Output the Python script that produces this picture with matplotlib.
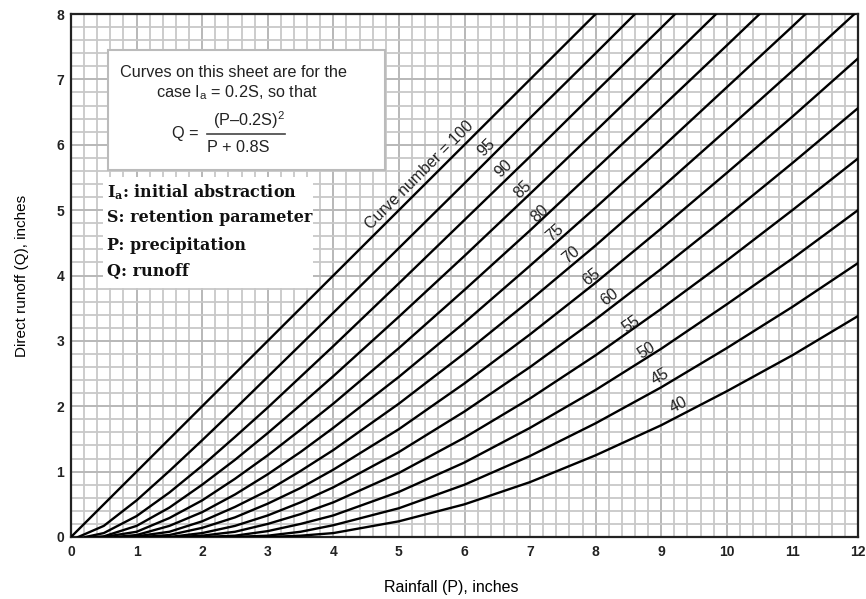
import numpy as np
import matplotlib.pyplot as plt
from matplotlib.patches import Rectangle

plt.rcParams["font.family"] = ["Liberation Sans", "DejaVu Sans"]
plt.rcParams["mathtext.fontset"] = "custom"
plt.rcParams["mathtext.rm"] = "Liberation Sans"
plt.rcParams["mathtext.it"] = "Liberation Sans:italic"
plt.rcParams["mathtext.bf"] = "Liberation Sans:bold"

p_grid = [0.5, 1, 1.5, 2, 2.5, 3, 3.5, 4, 5, 6, 7, 8, 9, 10, 11, 12]

curve_numbers = [100, 95, 90, 85, 80, 75, 70, 65, 60, 55, 50, 45, 40]
# rainfall where each curve leaves the x axis (initial abstraction)
start_p = [0.0, 0.11, 0.22, 0.35, 0.50, 0.67, 0.86, 1.08, 1.33, 1.64, 2.00, 2.44, 3.00]

q_100 = [0.5, 1, 1.5, 2, 2.5, 3, 3.5, 4, 5, 6, 7, 8, 9, None, None, None]
q_95 = [0.17, 0.56, 1.01, 1.48, 1.96, 2.45, 2.94, 3.43, 4.42, 5.41, 6.41, 7.40, 8.40, None, None, None]
q_90 = [0.06, 0.32, 0.68, 1.09, 1.53, 1.98, 2.45, 2.92, 3.88, 4.85, 5.82, 6.81, 7.79, 8.78, None, None]
q_85 = [0.01, 0.17, 0.45, 0.80, 1.18, 1.59, 2.02, 2.46, 3.37, 4.30, 5.25, 6.21, 7.18, 8.16, None, None]
q_80 = [None, 0.08, 0.29, 0.56, 0.89, 1.25, 1.64, 2.04, 2.89, 3.78, 4.69, 5.63, 6.57, 7.52, 8.48, None]
q_75 = [None, 0.03, 0.17, 0.38, 0.65, 0.96, 1.30, 1.67, 2.45, 3.28, 4.15, 5.04, 5.95, 6.88, 7.81, 8.76]
q_70 = [None, 0.01, 0.08, 0.24, 0.46, 0.71, 1.01, 1.33, 2.04, 2.81, 3.62, 4.46, 5.34, 6.23, 7.13, 8.05]
q_65 = [None, None, 0.03, 0.14, 0.30, 0.51, 0.75, 1.03, 1.65, 2.35, 3.10, 3.89, 4.72, 5.57, 6.43, 7.32]
q_60 = [None, None, 0.00, 0.06, 0.17, 0.33, 0.53, 0.76, 1.30, 1.92, 2.60, 3.33, 4.10, 4.90, 5.72, 6.56]
q_55 = [None, None, None, 0.02, 0.08, 0.20, 0.35, 0.53, 0.98, 1.52, 2.12, 2.78, 3.49, 4.23, 5.00, 5.79]
q_50 = [None, None, None, None, 0.02, 0.09, 0.20, 0.33, 0.69, 1.14, 1.67, 2.25, 2.88, 3.56, 4.26, 5.00]
q_45 = [None, None, None, None, None, 0.02, 0.08, 0.18, 0.44, 0.80, 1.24, 1.74, 2.29, 2.89, 3.52, 4.19]
q_40 = [None, None, None, None, None, None, 0.02, 0.06, 0.24, 0.50, 0.84, 1.25, 1.71, 2.23, 2.78, 3.38]

runoff = [q_100, q_95, q_90, q_85, q_80, q_75, q_70, q_65, q_60, q_55, q_50, q_45, q_40]

# label placement read from the sheet: (P, Q, angle)
label_p = [5.32, 6.34, 6.59, 6.89, 7.15, 7.38, 7.62, 7.94, 8.22, 8.54, 8.78, 8.98, 9.27]
label_q = [5.53, 5.96, 5.64, 5.31, 4.95, 4.65, 4.31, 3.98, 3.67, 3.26, 2.86, 2.45, 2.02]
label_angle = [45, 45, 44, 43.5, 42.5, 41.5, 40, 38, 37, 35, 32, 30, 27]


fig = plt.figure(figsize=(8.66, 5.99), dpi=100)
ax = fig.add_axes([71 / 866, 62 / 599, 787 / 866, 523 / 599])

p = np.array(p_grid)
for cn, p0, q, lp, lq, ang in zip(curve_numbers, start_p, runoff, label_p, label_q, label_angle):
    q = np.array(q, dtype=float)
    keep = ~np.isnan(q)
    x = np.concatenate([[p0], p[keep]])
    y = np.concatenate([[0.0], q[keep]])
    ax.plot(x, y, color="black", lw=1.7, zorder=3)
    txt = "Curve number = 100" if cn == 100 else str(cn)
    ax.text(lp, lq, txt, rotation=ang, rotation_mode="anchor", ha="center", va="center",
            fontsize=11.5, color="#222222", zorder=4)

ax.set_xlim(0, 12)
ax.set_ylim(0, 8)
ax.set_xticks(np.arange(0, 13, 1))
ax.set_yticks(np.arange(0, 9, 1))
ax.set_xticks(np.arange(0, 12.01, 0.2), minor=True)
ax.set_yticks(np.arange(0, 8.01, 0.2), minor=True)
ax.grid(which="minor", color="#c8c8c8", lw=1.3)
ax.grid(which="major", color="#b8b8b8", lw=1.4)
ax.set_axisbelow(True)
ax.tick_params(which="both", length=0)
ax.tick_params(axis="x", pad=6)
ax.tick_params(axis="y", pad=5)
for lab in ax.get_xticklabels() + ax.get_yticklabels():
    lab.set_fontweight("bold")
    lab.set_fontsize(10)
    lab.set_color("#222222")
for s in ax.spines.values():
    s.set_color("#222222")
    s.set_linewidth(1.6)

ax.set_xlabel("Rainfall (P), inches", fontsize=11.5, va="center")
ax.xaxis.set_label_coords(0.483, -0.096)
ax.set_ylabel("Direct runoff (Q), inches", fontsize=11, labelpad=20)

# formula box
ax.add_patch(Rectangle((0.047, 0.702), 0.352, 0.229, transform=ax.transAxes,
                       facecolor="white", edgecolor="#bbbbbb", lw=1.5, zorder=2.5))
ax.text(0.207, 0.889, "Curves on this sheet are for the", transform=ax.transAxes,
        ha="center", va="center", fontsize=11.7, color="#222222", zorder=3)
ax.text(0.211, 0.849, r"case I$_\mathrm{a}$ = 0.2S, so that", transform=ax.transAxes,
        ha="center", va="center", fontsize=11.7, color="#222222", zorder=3)
ax.text(0.145, 0.772, "Q =", transform=ax.transAxes,
        ha="center", va="center", fontsize=11.7, color="#222222", zorder=3)
ax.text(0.226, 0.797, r"(P–0.2S)$^2$", transform=ax.transAxes,
        ha="center", va="center", fontsize=11.7, color="#222222", zorder=3)
ax.text(0.212, 0.744, "P + 0.8S", transform=ax.transAxes,
        ha="center", va="center", fontsize=11.7, color="#222222", zorder=3)
ax.plot([0.173, 0.272], [0.771, 0.771], transform=ax.transAxes, color="#444444", lw=1.2, zorder=3)

# legend of symbols
ax.add_patch(Rectangle((0.041, 0.476), 0.266, 0.212, transform=ax.transAxes,
                       facecolor="white", edgecolor="none", zorder=2.5))
symbols = [r"I$_\mathbf{a}$: initial abstraction", "S: retention parameter",
           "P: precipitation", "Q: runoff"]
sym_y = [0.659, 0.610, 0.558, 0.507]
for s, yy in zip(symbols, sym_y):
    t = ax.text(0.046, yy, s, transform=ax.transAxes, ha="left", va="center",
                fontsize=11.5, fontweight="bold", family="DejaVu Serif", color="#111111", zorder=3)
    t.get_fontproperties().set_math_fontfamily("dejavuserif")

fig.savefig("out.png", dpi=100)
